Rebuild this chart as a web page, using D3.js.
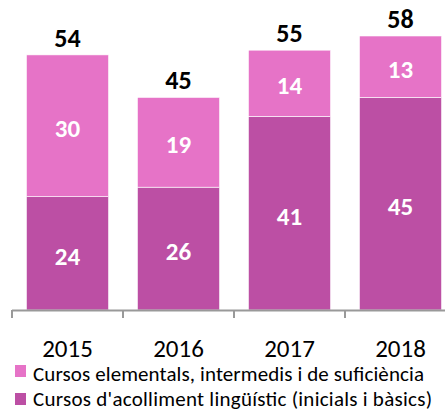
<!DOCTYPE html>
<html><head><meta charset="utf-8">
<script src="https://cdn.jsdelivr.net/npm/d3@7"></script>
<style>body{margin:0;background:#fff}svg{display:block}</style>
</head><body>
<script>
const years = ["2015","2016","2017","2018"];
const acolliment = [24, 26, 41, 45];
const elementals = [30, 19, 14, 13];
const totals = [54, 45, 55, 58];
const legendLabels = ["Cursos elementals, intermedis i de suficiència","Cursos d'acolliment lingüístic (inicials i bàsics)"];
const colors = {light:"#E673C7", dark:"#BC4FA4"};

const W=445,H=414;
const svg=d3.select("body").append("svg").attr("width",W).attr("height",H);
const font="Carlito, Calibri, Lato, sans-serif";
const x=d3.scaleBand().domain(years).range([12,456]).paddingInner(0.26).paddingOuter(0.13);
const y=d3.scaleLinear().domain([0,58]).range([310,36]);

const data=years.map((yr,i)=>({yr,a:acolliment[i],e:elementals[i],t:totals[i]}));
const g=svg.append("g");
g.selectAll("rect.a").data(data).join("rect").attr("class","a")
 .attr("x",d=>x(d.yr)).attr("width",x.bandwidth())
 .attr("y",d=>y(d.a)).attr("height",d=>y(0)-y(d.a))
 .attr("fill",colors.dark).attr("stroke","#fff").attr("stroke-width",0.6);
g.selectAll("rect.e").data(data).join("rect").attr("class","e")
 .attr("x",d=>x(d.yr)).attr("width",x.bandwidth())
 .attr("y",d=>y(d.a+d.e)).attr("height",d=>y(d.a)-y(d.a+d.e))
 .attr("fill",colors.light).attr("stroke","#fff").attr("stroke-width",0.6);

const ax=svg.append("g");
ax.append("line").attr("x1",12).attr("x2",W).attr("y1",310.5).attr("y2",310.5).attr("stroke","#999").attr("stroke-width",2);
const step=x.step();
[0,1,2,3].forEach(i=>{
  const tx=12+i*step;
  ax.append("line").attr("x1",tx).attr("x2",tx).attr("y1",310).attr("y2",318).attr("stroke","#999").attr("stroke-width",2);
});
ax.selectAll("text.cat").data(data).join("text").attr("class","cat")
 .attr("x",d=>x(d.yr)+x.bandwidth()/2).attr("y",357)
 .attr("text-anchor","middle").attr("font-family",font).attr("font-size",25).attr("fill","#000").text(d=>d.yr);

g.selectAll("text.ta").data(data).join("text").attr("class","ta")
 .attr("x",d=>x(d.yr)+x.bandwidth()/2).attr("y",d=>(y(d.a)+y(0))/2+11.5)
 .attr("text-anchor","middle").attr("font-family",font).attr("font-weight","bold").attr("font-size",25).attr("fill","#fff").text(d=>d.a);
g.selectAll("text.te").data(data).join("text").attr("class","te")
 .attr("x",d=>x(d.yr)+x.bandwidth()/2).attr("y",d=>(y(d.a)+y(d.a+d.e))/2+11)
 .attr("text-anchor","middle").attr("font-family",font).attr("font-weight","bold").attr("font-size",25).attr("fill","#fff").text(d=>d.e);
g.selectAll("text.tt").data(data).join("text").attr("class","tt")
 .attr("x",d=>x(d.yr)+x.bandwidth()/2).attr("y",d=>y(d.t)-8)
 .attr("text-anchor","middle").attr("font-family",font).attr("font-weight","bold").attr("font-size",26).attr("fill","#000").text(d=>d.t);

const lg=svg.append("g");
const lens=[391,399];
[colors.light,colors.dark].forEach((c,i)=>{
  lg.append("rect").attr("x",15).attr("y",365+i*28).attr("width",11).attr("height",12).attr("fill",c);
  lg.append("text").attr("x",33).attr("y",381+i*25).attr("font-family",font).attr("font-size",21)
    .attr("textLength",lens[i]).attr("lengthAdjust","spacing").attr("fill","#000").text(legendLabels[i]);
});
</script>
</body></html>
